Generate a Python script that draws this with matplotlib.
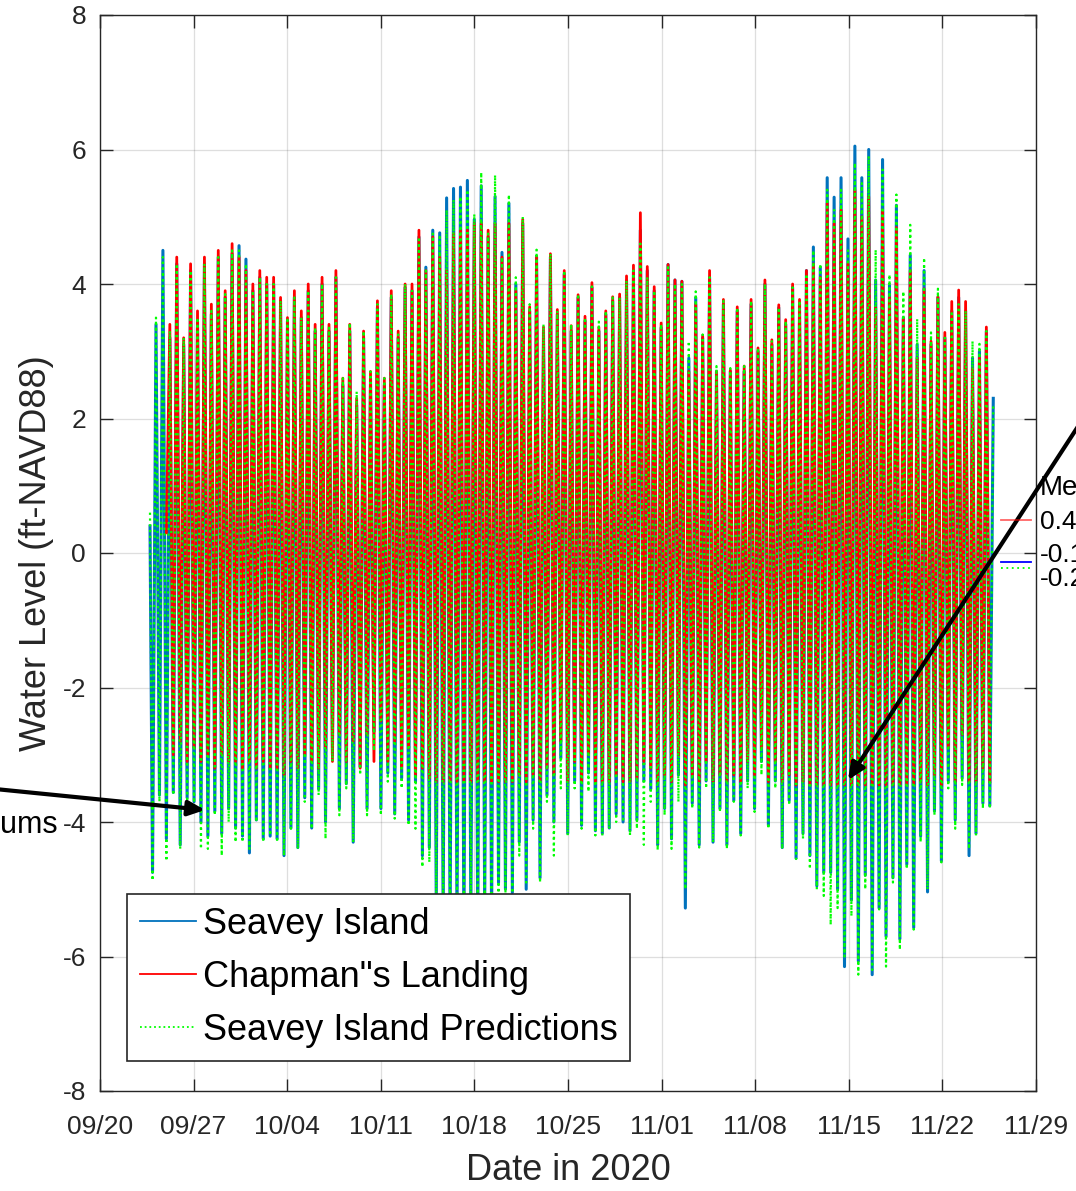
import matplotlib
matplotlib.use('agg')
import matplotlib.pyplot as plt
import matplotlib.dates as mdates
import numpy as np
from datetime import datetime, timedelta

plt.rcParams['axes.unicode_minus'] = False

nan = np.nan

# one value per tide cycle (high water, and the low water just before it)
seavey_hi = [
    3.4, 4.5, 3.2, 4.3, 3.1, 4.2, 3.45, 4.3, 3.55, 4.4, 3.8, 4.45, 4.57, 4.37, 3.9, 4.1, 4.0, 4.0, 3.75, 3.45, 3.8, 3.5, 3.9, 3.3,
    4.0, 3.3, 4.1, 2.5, 3.3, 2.2, 3.2, 2.6, 3.65, 2.5, 3.8, 3.2, 3.95, 3.9, 4.7, 4.25, 4.8, 4.76, 5.28, 5.42, 5.44, 5.54, 4.96, 5.46, 4.7,
    5.3, 4.47, 5.2, 4.0, 4.9, 3.6, 4.4, 3.3, 4.4, 3.55, 4.15, 3.3, 3.8, 3.45, 3.95, 3.3, 3.55, 3.75, 3.8, 4.05, 4.2, 4.8, 4.2, 3.9, 3.35,
    4.29, 4.06, 4.04, 2.9, 3.8, 3.2, 4.1, 2.7, 3.7, 2.7, 3.6, 2.7, 3.7, 3.0, 4.0, 3.1, 3.65, 3.4, 3.95, 3.7, 4.2, 4.55, 4.25, 5.58, 5.29,
    5.58, 4.67, 6.05, 5.58, 6.0, 4.06, 5.85, 3.98, 5.17, 3.5, 4.43, 3.1, 4.2, 3.1, 3.8, 3.2, 3.6, 3.8, 3.6, 2.9, 3.0, 3.3, 2.3,
]
seavey_lo = [
    -4.75, -3.6, -4.25, -3.56, -4.34, -3.64, -3.7, -4.0, -4.21, -3.84, -4.17, -3.8, -4.09, -4.21, -4.46, -3.97, -4.25, -4.21, -4.25, -4.5, -4.09, -4.38, -3.64, -4.09,
    -3.51, -4.0, -3.0, -3.8, -3.43, -4.3, -3.18, -3.8, -2.65, -3.8, -3.27, -3.88, -3.35, -3.97, -3.4, -4.5, -4.38, -5.2, -5.4, -5.6, -5.5, -5.7, -5.4, -5.6, -5.3,
    -5.5, -4.9, -5.0, -5.05, -4.3, -5.0, -3.97, -4.83, -3.6, -4.0, -3.05, -4.17, -3.39, -4.05, -3.27, -4.13, -4.17, -4.09, -3.88, -4.0, -4.13, -3.97, -3.39, -3.51, -4.34,
    -3.8, -4.25, -3.3, -5.28, -3.72, -4.34, -3.39, -4.3, -3.8, -4.34, -3.68, -4.17, -3.39, -3.8, -3.1, -4.05, -3.39, -4.38, -3.68, -4.54, -4.17, -4.5, -4.95, -4.75, -4.75,
    -5.0, -6.15, -5.16, -6.07, -4.79, -6.27, -5.28, -5.7, -4.83, -5.74, -4.63, -5.57, -4.21, -5.04, -3.84, -4.58, -3.39, -3.97, -3.35, -4.5, -4.17, -3.72, -3.76,
]
chapman_hi = [
    nan, nan, 3.4, 4.4, 3.2, 4.3, 3.6, 4.4, 3.7, 4.5, 3.9, 4.6, 4.4, 4.2, 4.0, 4.2, 4.1, 4.1, 3.8, 3.5, 3.9, 3.6, 4.0, 3.4,
    4.1, 3.4, 4.2, 2.6, 3.4, 2.3, 3.3, 2.7, 3.75, 2.6, 3.9, 3.3, 4.0, 4.0, 4.8, 4.2, 4.7, 4.4, 4.2, 4.75, 4.8, 4.8, 4.9, 4.9, 4.8,
    4.9, 4.4, 4.9, 3.9, 4.96, 3.66, 4.4, 3.36, 4.45, 3.62, 4.2, 3.38, 3.84, 3.52, 4.02, 3.36, 3.6, 3.81, 3.85, 4.12, 4.28, 5.06, 4.26, 3.96, 3.42,
    4.29, 4.06, 4.04, 2.7, 3.7, 3.23, 4.2, 2.7, 3.77, 2.72, 3.66, 2.78, 3.77, 3.05, 4.06, 3.17, 3.69, 3.47, 4.0, 3.77, 4.2, 4.3, 4.1, 5.2, 4.9,
    5.1, 4.3, 5.4, 5.0, 5.3, 3.65, 5.1, 3.8, 4.84, 3.48, 4.2, 2.9, 3.93, 3.15, 3.81, 3.28, 3.74, 3.91, 3.74, 2.74, 2.9, 3.36, nan,
]
chapman_lo = [
    nan, nan, 0.3, -3.0, -2.8, -3.1, -2.9, -3.1, -3.0, -3.2, -3.0, -3.1, -3.1, -3.2, -3.1, -3.2, -3.1, -3.2, -3.2, -3.3, -3.1, -3.2, -3.0, -3.1,
    -3.2, -2.9, -3.1, -2.7, -3.1, -2.8, -3.2, -2.7, -3.1, -2.5, -3.1, -2.8, -3.2, -2.9, -3.3, -3.2, -3.35, -3.4, -3.4, -3.4, -3.4, -3.4, -3.4, -3.4, -3.4,
    -3.4, -3.4, -3.4, -3.4, -3.3, -3.4, -3.3, -3.4, -3.2, -3.3, -2.8, -3.4, -3.1, -3.4, -3.0, -3.4, -3.4, -3.4, -3.3, -3.4, -3.4, -3.35, -3.1, -3.2, -3.4,
    -3.3, -3.4, -3.0, -3.45, -3.3, -3.4, -3.1, -3.4, -3.3, -3.4, -3.3, -3.4, -3.1, -3.3, -2.9, -3.4, -3.1, -3.4, -3.3, -3.45, -3.4, -3.45, -3.45, -3.45, -3.45,
    -3.45, -3.45, -3.45, -3.45, -3.45, -3.45, -3.45, -3.45, -3.45, -3.45, -3.45, -3.45, -3.4, -3.45, -3.3, -3.45, -2.9, -3.4, -2.7, -3.4, -3.4, -3.2, -3.4,
]
pred_hi = [
    3.5, 4.4, 3.3, 4.3, 3.2, 4.2, 3.5, 4.3, 3.6, 4.4, 3.85, 4.5, 4.5, 4.3, 3.9, 4.1, 4.0, 4.0, 3.75, 3.5, 3.8, 3.5, 3.9, 3.35,
    4.0, 3.35, 4.1, 2.6, 3.42, 2.4, 3.3, 2.7, 3.7, 2.6, 3.85, 3.25, 4.0, 3.9, 4.7, 4.2, 4.75, 4.7, 5.1, 5.25, 5.3, 5.4, 5.04, 5.66, 4.75,
    5.62, 4.4, 5.33, 4.1, 5.0, 3.7, 4.51, 3.4, 4.45, 3.6, 4.2, 3.4, 3.85, 3.5, 4.0, 3.44, 3.6, 3.8, 3.8, 4.05, 4.2, 4.6, 4.1, 3.9, 3.4,
    4.25, 4.0, 4.0, 3.15, 3.89, 3.25, 4.1, 2.78, 3.75, 2.75, 3.65, 2.78, 3.75, 3.05, 4.0, 3.15, 3.65, 3.45, 3.95, 3.75, 4.15, 4.5, 4.3, 5.4, 5.1,
    5.4, 4.5, 5.8, 5.5, 5.9, 4.51, 5.7, 4.14, 5.33, 3.89, 4.88, 3.48, 4.39, 3.28, 3.93, 3.2, 3.6, 3.7, 3.6, 3.15, 3.11, 3.3, 2.2,
]
pred_lo = [
    -4.87, -3.7, -4.58, -3.6, -4.4, -3.7, -3.8, -4.4, -4.4, -3.9, -4.5, -4.0, -4.3, -4.3, -4.4, -4.0, -4.3, -4.2, -4.3, -4.5, -4.1, -4.4, -3.7, -4.1,
    -3.6, -4.25, -3.1, -3.9, -3.5, -4.3, -3.3, -3.9, -2.94, -3.9, -3.4, -3.95, -3.5, -4.05, -4.1, -4.67, -4.6, -5.1, -5.3, -5.5, -5.5, -5.6, -5.4, -5.5, -5.3,
    -5.4, -5.1, -5.1, -5.1, -4.5, -4.9, -4.1, -4.9, -3.7, -4.5, -3.5, -4.2, -3.5, -4.1, -3.55, -4.2, -4.2, -4.1, -4.0, -4.0, -4.2, -4.1, -4.34, -3.7, -4.42,
    -3.9, -4.4, -3.7, -5.0, -3.8, -4.38, -3.5, -4.3, -3.85, -4.4, -3.7, -4.2, -3.5, -3.85, -3.3, -4.1, -3.5, -4.4, -3.75, -4.55, -4.25, -4.7, -5.0, -5.1, -5.53,
    -5.28, -6.0, -5.4, -6.27, -5.0, -6.2, -5.3, -6.15, -4.9, -5.9, -4.7, -5.6, -4.3, -5.0, -3.9, -4.6, -3.5, -4.1, -3.45, -4.4, -4.2, -3.8, -3.8,
]
# first logged value of each record
start_vals = {'seavey': 0.4, 'chapman': nan, 'pred': 0.6}

record_start = datetime(2020, 9, 23, 17, 45)
first_high = datetime(2020, 9, 24, 4, 30)
tide_period_h = 12.42

legend_labels = ['Seavey Island', 'Chapman"s Landing', 'Seavey Island Predictions']
side_title = 'Mean'
side_values = ['0.42', '-0.13', '-0.22']

for arr in (seavey_lo, chapman_hi, chapman_lo, pred_hi, pred_lo):
    assert len(arr) == len(seavey_hi), len(arr)

n = len(seavey_hi)
high_t = [first_high + timedelta(hours=tide_period_h * k) for k in range(n)]
low_t = [t - timedelta(hours=tide_period_h / 2) for t in high_t]


def tide_line(start, lows, highs):
    tt = [record_start]
    vv = [start]
    for k in range(n):
        tt += [low_t[k], high_t[k]]
        vv += [lows[k], highs[k]]
    return mdates.date2num(tt), np.array(vv, dtype=float)


tick_font = ['Liberation Sans', 'DejaVu Sans']
label_font = ['Liberation Sans', 'DejaVu Sans']
dark = '#262626'

fig = plt.figure(figsize=(10.76, 11.91), dpi=100)
ax = fig.add_axes([100 / 1076, 1 - 1091 / 1191, 936 / 1076, 1076 / 1191])

t, v = tide_line(start_vals['seavey'], seavey_lo, seavey_hi)
ax.plot(t, v, color='#0072BD', lw=2.2, label=legend_labels[0], zorder=3)
t, v = tide_line(start_vals['chapman'], chapman_lo, chapman_hi)
ax.plot(t, v, color='#FF0000', lw=2.0, label=legend_labels[1], zorder=4)
t, v = tide_line(start_vals['pred'], pred_lo, pred_hi)
ax.plot(t, v, color='#00FF00', lw=1.6, ls=(0, (1, 1.6)), label=legend_labels[2], zorder=5)

ax.set_xlim(mdates.date2num(datetime(2020, 9, 20)), mdates.date2num(datetime(2020, 11, 29)))
ax.set_ylim(-8, 8)
ax.set_yticks(np.arange(-8, 9, 2))
ax.set_xticks(mdates.date2num([datetime(2020, 9, 20) + timedelta(days=7 * i) for i in range(11)]))
ax.xaxis.set_major_formatter(mdates.DateFormatter('%m/%d'))

ax.grid(True, color=dark, alpha=0.15, lw=0.9)
ax.set_axisbelow(True)
for s in ax.spines.values():
    s.set_color(dark)
    s.set_linewidth(1.0)
ax.tick_params(direction='in', length=9, width=1.0, top=True, right=True,
               colors=dark, pad=10)
ax.tick_params(axis='x', pad=17)
for lab in ax.get_xticklabels() + ax.get_yticklabels():
    lab.set_family(tick_font)
    lab.set_fontsize(19)
    lab.set_color(dark)

ax.set_xlabel('Date in 2020', family=label_font, fontsize=26, color=dark, labelpad=10)
ax.set_ylabel('Water Level (ft-NAVD88)', family=label_font, fontsize=26, color=dark, labelpad=6)

leg = ax.legend(loc='lower left', bbox_to_anchor=(0.0288, 0.0281), borderaxespad=0,
                prop={'family': label_font, 'size': 26}, fancybox=False,
                handlelength=1.55, handletextpad=0.2, borderpad=0.35, labelspacing=0.5,
                framealpha=1, edgecolor=dark)
leg.get_frame().set_linewidth(1.2)
leg.set_zorder(10)
for h in leg.get_lines():
    h.set_linewidth(1.3)

# partly cropped side legend at the right edge
fig.text(1040 / 1076, 1 - 488 / 1191, side_title, family=tick_font, fontsize=20,
         va='center', ha='left', color='black')
for val, yy in zip(side_values, [522, 555, 579]):
    fig.text(1040 / 1076, 1 - yy / 1191, val, family=tick_font, fontsize=19,
             va='center', ha='left', color='black')
fig.add_artist(plt.Line2D([1001 / 1076, 1031 / 1076], [1 - 520 / 1191] * 2, color='#FF0000', lw=1.3, alpha=0.6))
fig.add_artist(plt.Line2D([1001 / 1076, 1031 / 1076], [1 - 562 / 1191] * 2, color='#0000FF', lw=1.3))
fig.add_artist(plt.Line2D([1001 / 1076, 1031 / 1076], [1 - 568 / 1191] * 2, color='#00FF00', lw=1.3, ls=(0, (1, 2))))

# annotation arrows
fig.text(58 / 1076, 1 - 825 / 1191, 'Minimums', family=label_font, fontsize=22,
         ha='right', va='center', color='black')
arrow = dict(arrowstyle='-|>,head_length=1.0,head_width=0.45', color='black', lw=3,
             shrinkA=0, shrinkB=0)
for tip, tail in [((205, 1191 - 810), (-5, 1191 - 789)),
                  ((848, 1191 - 780), (1090, 1191 - 408))]:
    an = ax.annotate('', xy=tip, xycoords='figure pixels', xytext=tail,
                     textcoords='figure pixels', arrowprops=arrow, annotation_clip=False)
    an.set_zorder(20)

fig.savefig('out.png', dpi=100)
